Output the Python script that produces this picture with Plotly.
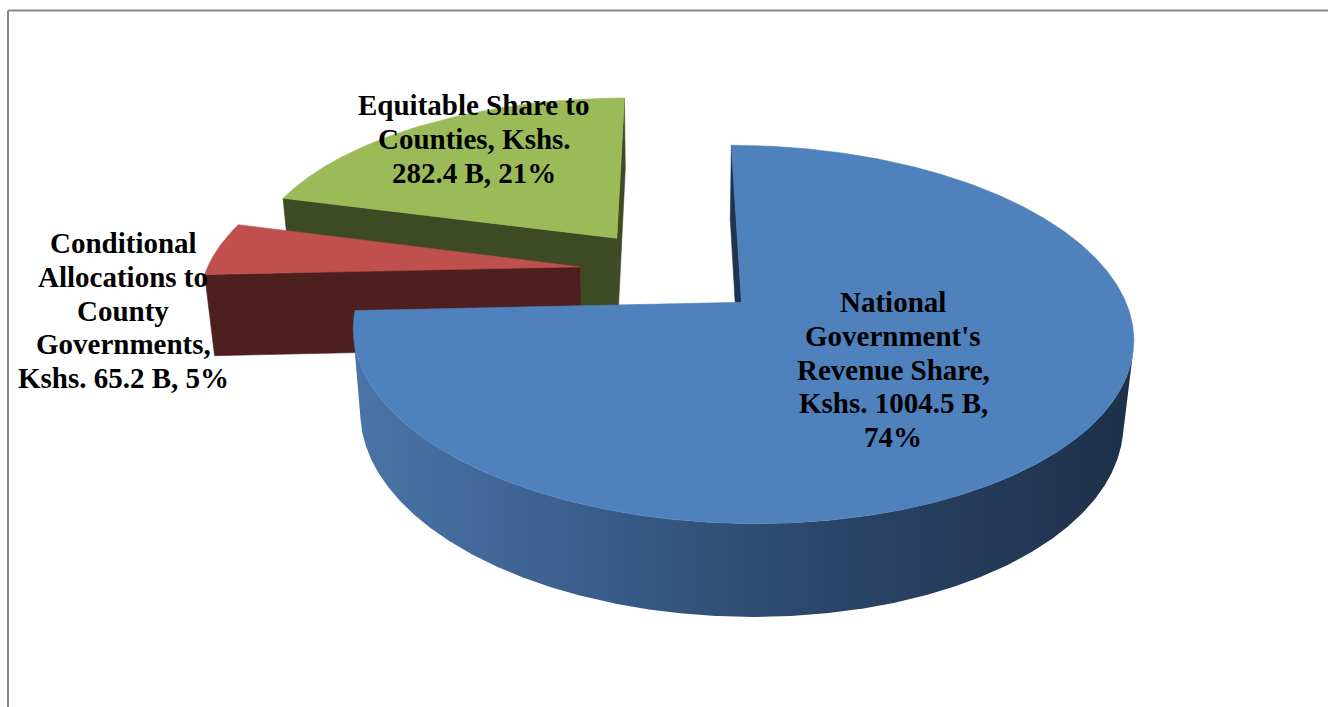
import numpy as np
import plotly.graph_objects as go

# ---------------- data ----------------
categories = ["National Government's Revenue Share",
              "Conditional Allocations to County Governments",
              "Equitable Share to Counties"]
values_bn = [1004.5, 65.2, 282.4]          # Kshs. billions
label_lines = [
    ["National", "Government's", "Revenue Share,", "Kshs. {v} B,", "{p}%"],
    ["Conditional", "Allocations to", "County", "Governments,", "Kshs. {v} B, {p}%"],
    ["Equitable Share to", "Counties, Kshs.", "{v} B, {p}%"],
]

# ---------------- style ----------------
top_colors = ["#4F81BD", "#C0504D", "#9BBB59"]
side_colors = ["#1F3450", "#4E1F1F", "#3E4A23"]
blue_wall_scale = [[0.0, "#4A74A8"], [0.3, "#3A5E8C"], [0.6, "#2B4669"], [1.0, "#1E3049"]]
label_pos = [(893, 302), (123, 243), (474, 105)]   # (center x, first line y) in px
LINE_STEP = 33.8

W, H = 1328, 707
CX, CY = 672.0, 271.5
SCALE = 373.5
PHI = np.arcsin(0.4643)
PERSP = 0.1863
EXPLODE = 0.25
DEPTH = 0.25


def proj(X, Y, Z):
    X, Y, Z = (np.asarray(v, dtype=float) for v in (X, Y, Z))
    w = 1 + PERSP * (Z * np.cos(PHI) - Y * np.sin(PHI))
    sx = CX + SCALE * X / w
    sy = CY - SCALE * (Z * np.sin(PHI) + Y * np.cos(PHI)) / w
    return sx, sy


CAM = np.array([0.0, np.sin(PHI) / PERSP, -np.cos(PHI) / PERSP])


def visible(P, n):
    return float(np.dot(n, CAM - P)) > 0


total = sum(values_bn)
fr = np.array(values_bn) / total
ends = np.cumsum(fr) * 360.0
starts = ends - fr * 360.0

faces_by_slice = []
for i in range(len(values_bn)):
    t1, t2 = np.radians(starts[i]), np.radians(ends[i])
    mid = (t1 + t2) / 2
    V = EXPLODE * np.array([np.sin(mid), 0.0, np.cos(mid)])
    faces = []
    # radial cut faces
    for t, n in ((t1, np.array([-np.cos(t1), 0, np.sin(t1)])),
                 (t2, np.array([np.cos(t2), 0, -np.sin(t2)]))):
        u = np.array([np.sin(t), 0, np.cos(t)])
        pts = [V, V + u, V + u - [0, DEPTH, 0], V - [0, DEPTH, 0]]
        P = V + u / 2 - [0, DEPTH / 2, 0]
        if visible(P, n):
            arr = np.array(pts)
            sx, sy = proj(arr[:, 0], arr[:, 1], arr[:, 2])
            faces.append((sx, sy, side_colors[i], None))
    # outer wall
    th = np.linspace(t1, t2, 720)
    vis = np.array([visible(V + [np.sin(a), -DEPTH / 2, np.cos(a)],
                            np.array([np.sin(a), 0, np.cos(a)])) for a in th])
    runs = []
    k = 0
    while k < len(th):
        if vis[k]:
            j = k
            while j + 1 < len(th) and vis[j + 1]:
                j += 1
            runs.append((k, j))
            k = j + 1
        else:
            k += 1
    for (a, b) in runs:
        tt = th[a:b + 1]
        X = V[0] + np.sin(tt)
        Z = V[2] + np.cos(tt)
        tx, ty = proj(X, np.zeros_like(tt), Z)
        bx, by = proj(X, -DEPTH * np.ones_like(tt), Z)
        sx = np.concatenate([tx, bx[::-1]])
        sy = np.concatenate([ty, by[::-1]])
        grad = blue_wall_scale if i == 0 else None
        faces.append((sx, sy, side_colors[i], grad))
    # top face
    tt = np.linspace(t1, t2, 720)
    X = np.concatenate([[V[0]], V[0] + np.sin(tt)])
    Z = np.concatenate([[V[2]], V[2] + np.cos(tt)])
    sx, sy = proj(X, np.zeros_like(X), Z)
    faces.append((sx, sy, top_colors[i], None))
    faces_by_slice.append((V[2], faces))

fig = go.Figure()
for _, faces in sorted(faces_by_slice, key=lambda f: -f[0]):
    for sx, sy, col, grad in faces:
        kw = dict(x=np.append(sx, sx[0]), y=np.append(sy, sy[0]), mode="lines",
                  fill="toself", hoverinfo="skip", showlegend=False)
        if grad is not None:
            kw["fillgradient"] = dict(type="horizontal", colorscale=grad)
            kw["line"] = dict(width=0)
        else:
            kw["fillcolor"] = col
            kw["line"] = dict(width=0.6, color=col)
        fig.add_trace(go.Scatter(**kw))

pcts = [round(f * 100) for f in fr]
for i, lines in enumerate(label_lines):
    x0, y0 = label_pos[i]
    for j, ln in enumerate(lines):
        fig.add_annotation(x=x0, y=y0 + j * LINE_STEP, xref="x", yref="y",
                           text="<b>" + ln.format(v=values_bn[i], p=pcts[i]) + "</b>",
                           showarrow=False, xanchor="center", yanchor="middle",
                           font=dict(family="Liberation Serif", size=29, color="black"))

fig.add_shape(type="line", xref="x", yref="y", x0=8, y0=10.5, x1=W, y1=10.5,
              line=dict(color="#878787", width=2))
fig.add_shape(type="line", xref="x", yref="y", x0=8, y0=10.5, x1=8, y1=H,
              line=dict(color="#878787", width=2))

fig.update_layout(width=W, height=H, autosize=False,
                  margin=dict(l=0, r=0, t=0, b=0),
                  paper_bgcolor="white", plot_bgcolor="white",
                  xaxis=dict(range=[0, W], visible=False, fixedrange=True),
                  yaxis=dict(range=[H, 0], visible=False, fixedrange=True))
fig.write_html("out.html")
